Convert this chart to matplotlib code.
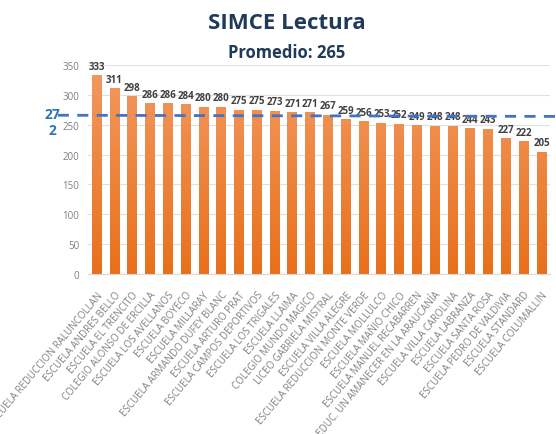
import matplotlib
matplotlib.use("Agg")
import matplotlib.pyplot as plt
import numpy as np
from matplotlib.colors import LinearSegmentedColormap

schools = [
    "ESCUELA REDUCCION RALUNCOLLAN", "ESCUELA ANDRES BELLO", "ESCUELA EL TRENCITO",
    "COLEGIO ALONSO DE ERCILLA", "ESCUELA LOS AVELLANOS", "ESCUELA BOYECO",
    "ESCUELA MILLARAY", "ESCUELA ARMANDO DUFEY BLANC", "ESCUELA ARTURO PRAT",
    "ESCUELA CAMPOS DEPORTIVOS", "ESCUELA LOS TRIGALES", "ESCUELA LLAIMA",
    "COLEGIO MUNDO MAGICO", "LICEO GABRIELA MISTRAL", "ESCUELA VILLA ALEGRE",
    "ESCUELA REDUCCION MONTE VERDE", "ESCUELA MOLLULCO", "ESCUELA MAÑIO CHICO",
    "ESCUELA MANUEL RECABARREN", "ESC. EDUC. UN AMANECER EN LA ARAUCANÍA",
    "ESCUELA VILLA CAROLINA", "ESCUELA LABRANZA", "ESCUELA SANTA ROSA",
    "ESCUELA PEDRO DE VALDIVIA", "ESCUELA STANDARD", "ESCUELA COLUMALLIN",
]
scores = [333, 311, 298, 286, 286, 284, 280, 280, 275, 275, 273, 271, 271, 267,
          259, 256, 253, 252, 249, 248, 248, 244, 243, 227, 222, 205]
y_ticks = [0, 50, 100, 150, 200, 250, 300, 350]
avg_line = 266
avg_label = "27\n2"
title = "SIMCE Lectura"
subtitle = "Promedio: 265"

plt.rcParams['font.family'] = ['Open Sans', 'DejaVu Sans']

fig = plt.figure(figsize=(5.56, 4.35), dpi=100)
ax = fig.add_axes([0.158, 0.368, 0.832, 0.480])

x = np.arange(len(scores))
bars = ax.bar(x, scores, width=0.56, color="#EE7F34", zorder=2)

cmap = LinearSegmentedColormap.from_list("og", ["#E8701C", "#F29A62"])
grad = np.linspace(0, 1, 256).reshape(-1, 1)
for b in bars:
    bx = b.get_x()
    w = b.get_width()
    im = ax.imshow(grad, cmap=cmap, aspect="auto", origin="lower",
                   extent=[bx, bx + w, 0, 350], zorder=2.5)
    im.set_clip_path(b)

for xi, v in zip(x, scores):
    ax.text(xi, v + 6, str(v), ha="center", va="bottom", fontsize=7,
            fontweight="bold", color="#404040", zorder=4)

ax.set_xlim(-0.5, len(scores) - 0.5)
ax.set_ylim(0, 350)
ax.set_yticks(y_ticks)
ax.set_yticklabels([str(t) for t in y_ticks], fontsize=7, color="#7F7F7F")
ax.set_xticks(x)
ax.set_xticklabels(schools, rotation=50, ha="right", rotation_mode="anchor",
                   fontsize=7, color="#808080")
ax.tick_params(axis="both", length=0, pad=6)
ax.tick_params(axis="x", pad=11)
ax.grid(axis="y", color="#E0E0E0", linewidth=0.8, zorder=0)
for s in ["top", "right", "left"]:
    ax.spines[s].set_visible(False)
ax.spines["bottom"].set_color("#D9D9D9")

ax.plot([-0.065, 1.02], [avg_line, avg_line - 2], transform=ax.get_yaxis_transform(),
        ls=(0, (4, 3)), color="#4472C4", lw=2, clip_on=False, zorder=5)
fig.text(0.095, 0.717, avg_label, ha="center", va="center", fontsize=10,
         fontweight="bold", color="#2E75B6", linespacing=1.25)

fig.text(0.515, 0.947, title, ha="center", va="center", fontsize=16,
         fontweight="bold", color="#1F3A5A")
fig.text(0.515, 0.878, subtitle, ha="center", va="center", fontsize=12,
         fontweight="bold", color="#1F3A5A")

fig.savefig("out.png", dpi=100)
